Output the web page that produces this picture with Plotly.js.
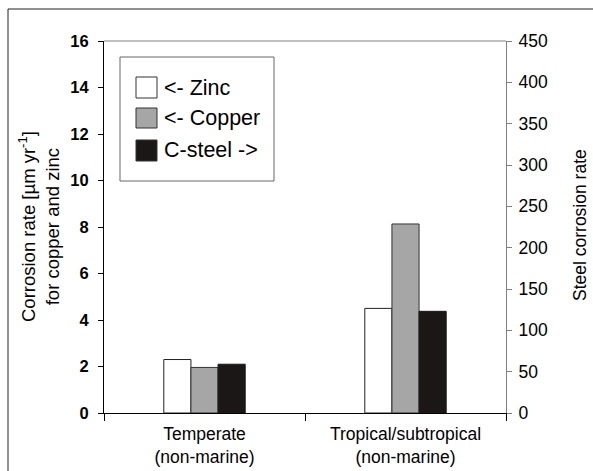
<!DOCTYPE html>
<html>
<head>
<meta charset="utf-8">
<script src="https://cdn.plot.ly/plotly-3.0.1.min.js"></script>
<style>html,body{margin:0;padding:0;background:#fff;}</style>
</head>
<body>
<div id="chart" style="width:593px;height:471px;"></div>
<script>
var categories = ["Temperate<br>(non-marine)", "Tropical/subtropical<br>(non-marine)"];
var zincRate = [2.3, 4.5];
var copperRate = [1.96, 8.13];
var steelRate = [59, 123];
var leftTicks = [0, 2, 4, 6, 8, 10, 12, 14, 16];
var rightTicks = [0, 50, 100, 150, 200, 250, 300, 350, 400, 450];
var legendLabels = ["<- Zinc", "<- Copper", "C-steel ->"];

var FONT = "'Liberation Sans', Arial, sans-serif";
var colors = ["#ffffff", "#a6a6a6", "#1c1717"];
var W = 0.135;

var traces = [
  {type: "bar", name: legendLabels[0], x: categories, y: zincRate, yaxis: "y",
   width: W, offset: -0.2025, marker: {color: colors[0], line: {color: "#222", width: 1}}, showlegend: false},
  {type: "bar", name: legendLabels[1], x: categories, y: copperRate, yaxis: "y",
   width: W, offset: -0.0675, marker: {color: colors[1], line: {color: "#333", width: 1}}, showlegend: false},
  {type: "bar", name: legendLabels[2], x: categories, y: steelRate, yaxis: "y2",
   width: W, offset: 0.0675, marker: {color: colors[2], line: {color: "#1c1717", width: 1}}, showlegend: false}
];

function pxShape(x0, y0, x1, y1, opts) {
  var s = {type: "rect", xref: "paper", yref: "paper", xsizemode: "pixel", ysizemode: "pixel",
    xanchor: 0, yanchor: 1, x0: x0, x1: x1, y0: y0, y1: y1};
  for (var k in opts) s[k] = opts[k];
  return s;
}

var shapes = [
  pxShape(-96, 32, 489, 32, {type: "line", line: {color: "#222", width: 1}}),
  pxShape(-96, 32, -96, -440, {type: "line", line: {color: "#222", width: 1}}),
  {type: "line", xref: "paper", yref: "paper", x0: 0, x1: 1, y0: 1, y1: 1, line: {color: "#808080", width: 1}},
  pxShape(16, -16, 170, -140, {line: {color: "#666", width: 1}, fillcolor: "rgba(0,0,0,0)"})
];
var swY = [[-36, -57], [-67, -87], [-99, -120]];
var txtY = [-47, -77, -109];
var annotations = [];
for (var i = 0; i < 3; i++) {
  shapes.push(pxShape(32, swY[i][0], 53, swY[i][1], {line: {color: "#333", width: 1}, fillcolor: colors[i]}));
  annotations.push({xref: "paper", yref: "paper", x: 0, y: 1, xanchor: "left", yanchor: "middle",
    xshift: 58, yshift: txtY[i], text: legendLabels[i], showarrow: false,
    font: {family: FONT, size: 21.5, color: "#000"}});
}
annotations.push({xref: "paper", yref: "paper", x: 0, y: 1, xshift: -65, yshift: -186,
  textangle: -90, showarrow: false, xanchor: "center", yanchor: "middle",
  text: "Corrosion rate [µm yr<sup>-1</sup>]<br>for copper and zinc",
  font: {family: FONT, size: 18.5, color: "#000"}});
annotations.push({xref: "paper", yref: "paper", x: 1, y: 1, xshift: 74, yshift: -184,
  textangle: -90, showarrow: false, xanchor: "center", yanchor: "middle",
  text: "Steel corrosion rate",
  font: {family: FONT, size: 17.5, color: "#000"}});

var layout = {
  width: 593, height: 471,
  margin: {l: 104, r: 87, t: 41, b: 58},
  paper_bgcolor: "#fff", plot_bgcolor: "#fff",
  font: {family: FONT, color: "#000"},
  showlegend: false,
  xaxis: {type: "category", tickson: "boundaries", ticks: "outside", ticklen: 7, tickcolor: "#000",
    showline: true, linecolor: "#000", linewidth: 1, showgrid: false, ticklabelstandoff: 5,
    tickfont: {family: FONT, size: 17.5, color: "#000"}},
  yaxis: {range: [0, 16], tickvals: leftTicks, ticks: "outside", ticklen: 5, tickcolor: "#000",
    showline: true, linecolor: "#000", linewidth: 1, showgrid: false, zeroline: false,
    ticklabelstandoff: 6,
    tickfont: {family: FONT, size: 16.5, color: "#000", weight: "bold"}},
  yaxis2: {range: [0, 450], tickvals: rightTicks, overlaying: "y", side: "right",
    ticks: "outside", ticklen: 5, tickcolor: "#808080",
    showline: true, linecolor: "#808080", linewidth: 1, showgrid: false, zeroline: false,
    ticklabelstandoff: 3,
    tickfont: {family: FONT, size: 17.5, color: "#000"}},
  shapes: shapes,
  annotations: annotations
};

Plotly.newPlot("chart", traces, layout, {displayModeBar: false, staticPlot: true});
</script>
</body>
</html>
